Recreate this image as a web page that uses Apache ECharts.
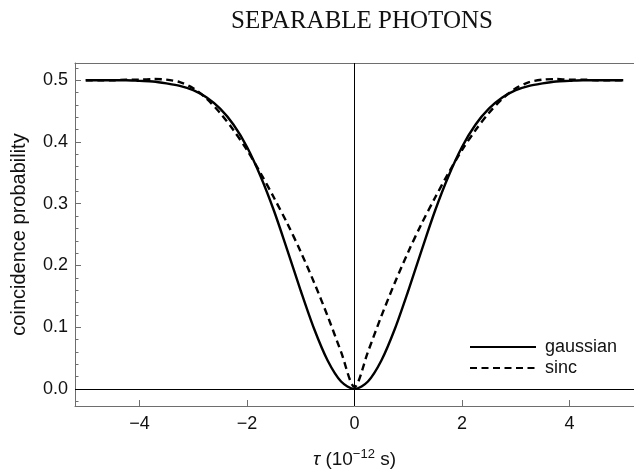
<!DOCTYPE html>
<html><head><meta charset="utf-8">
<script src="https://cdn.jsdelivr.net/npm/echarts@6/dist/echarts.min.js"></script>
<style>html,body{margin:0;padding:0;background:#fff}#c{width:634px;height:474px}</style>
</head><body><div id="c"></div>
<script>
const tau = [-5,-4.75,-4.5,-4.25,-4,-3.75,-3.5,-3.25,-3,-2.75,-2.5,-2.25,-2,-1.75,-1.5,-1.25,-1,-0.75,-0.5,-0.25,0,
  0.25,0.5,0.75,1,1.25,1.5,1.75,2,2.25,2.5,2.75,3,3.25,3.5,3.75,4,4.25,4.5,4.75,5];
const gaussian = [0.5,0.5,0.5,0.5,0.499,0.498,0.495,0.491,0.484,0.472,0.454,0.428,0.392,0.345,0.289,0.225,0.159,0.097,0.046,0.012,0,
  0.012,0.046,0.097,0.159,0.225,0.289,0.345,0.392,0.428,0.454,0.472,0.484,0.491,0.495,0.498,0.499,0.5,0.5,0.5,0.5];
const sinc = [0.5,0.5,0.5,0.501,0.501,0.502,0.501,0.497,0.487,0.47,0.447,0.419,0.387,0.35,0.31,0.268,0.222,0.172,0.118,0.06,0.003,
  0.06,0.118,0.172,0.222,0.268,0.31,0.35,0.387,0.419,0.447,0.47,0.487,0.497,0.501,0.502,0.501,0.501,0.5,0.5,0.5];
const xTicks = [-4,-2,0,2,4];
const yTicks = [0,0.1,0.2,0.3,0.4,0.5];
const yMinorTicks = [-0.02,0.02,0.04,0.06,0.08,0.12,0.14,0.16,0.18,0.22,0.24,0.26,0.28,0.32,0.34,0.36,0.38,0.42,0.44,0.46,0.48,0.52];
const titleText = 'SEPARABLE PHOTONS';
const seriesNames = ['gaussian','sinc'];

const chart = echarts.init(document.getElementById('c'), null, {renderer:'canvas'});
const frameColor = '#6e6e6e';
const XMIN=-5.2, XMAX=5.2, YMIN=-0.0277, YMAX=0.528;
const sans = 'Liberation Sans, Arial, sans-serif';
chart.setOption({
  animation:false,
  backgroundColor:'#fff',
  title:{text:titleText, left:357, top:4, textAlign:'center',
    textStyle:{fontFamily:'Liberation Serif, DejaVu Serif, serif', fontWeight:'normal', fontSize:25, color:'#111'}},
  legend:{data:seriesNames, orient:'vertical', left:464, top:333, itemWidth:66, itemHeight:14, itemGap:3,
    itemStyle:{opacity:0},
    textStyle:{fontFamily:sans, fontSize:18, lineHeight:18, color:'#111', padding:[0,0,0,4]}},
  grid:{left:75, right:-5, top:63, bottom:61.3, containLabel:false},
  xAxis:[{type:'value', min:XMIN, max:XMAX, position:'bottom',
    axisLine:{show:true, onZero:false, lineStyle:{color:frameColor, width:1}},
    axisTick:{show:true, inside:true, length:6, customValues:xTicks, lineStyle:{color:frameColor}},
    axisLabel:{customValues:xTicks, margin:9, fontFamily:sans, fontSize:18, color:'#111',
      formatter:v=> v<0 ? '\u2212'+(-v) : String(v)},
    splitLine:{show:false},
    name:'{i|τ} (10{sup|−12} s)', nameLocation:'middle', nameGap:42,
    nameTextStyle:{fontFamily:sans, fontSize:19, color:'#111',
      rich:{i:{fontFamily:sans, fontStyle:'italic', fontSize:19, color:'#111'},
            sup:{fontFamily:sans, fontSize:13, color:'#111', verticalAlign:'bottom', padding:[0,0,10,0]}}}},
   {type:'value', min:XMIN, max:XMAX, position:'top',
    axisLine:{show:true, onZero:false, lineStyle:{color:frameColor, width:1}},
    axisTick:{show:false}, axisLabel:{show:false}, splitLine:{show:false}}],
  yAxis:[{type:'value', min:YMIN, max:YMAX, position:'left',
    axisLine:{show:true, onZero:false, lineStyle:{color:frameColor, width:1}},
    axisTick:{show:true, inside:true, length:6, customValues:yTicks, lineStyle:{color:frameColor}},
    axisLabel:{customValues:yTicks, margin:7, fontFamily:sans, fontSize:18, color:'#111',
      formatter:v=>v.toFixed(1)},
    splitLine:{show:false},
    name:'coincidence probability', nameLocation:'middle', nameGap:46, nameRotate:90,
    nameTextStyle:{fontFamily:sans, fontSize:20, color:'#111'}},
   {type:'value', min:YMIN, max:YMAX, position:'left',
    axisLine:{show:false, onZero:false},
    axisTick:{show:true, inside:true, length:3.5, customValues:yMinorTicks, lineStyle:{color:frameColor}},
    axisLabel:{show:false, customValues:yMinorTicks}, splitLine:{show:false}}],
  series:[
    {name:seriesNames[0], type:'line', xAxisIndex:0, yAxisIndex:0, symbol:'none', smooth:0.3,
     data:tau.map((t,i)=>[t,gaussian[i]]),
     lineStyle:{color:'#000', width:2.4, type:'solid'}, itemStyle:{color:'#000'},
     markLine:{silent:true, symbol:['none','none'], label:{show:false},
       lineStyle:{color:'#000', width:1, type:'solid'},
       data:[{xAxis:0},{yAxis:0}]}},
    {name:seriesNames[1], type:'line', xAxisIndex:0, yAxisIndex:0, symbol:'none', smooth:0.3,
     data:tau.map((t,i)=>[t,sinc[i]]),
     lineStyle:{color:'#000', width:2.4, type:[7,4.5]}, itemStyle:{color:'#000'}}
  ]
});
</script></body></html>
